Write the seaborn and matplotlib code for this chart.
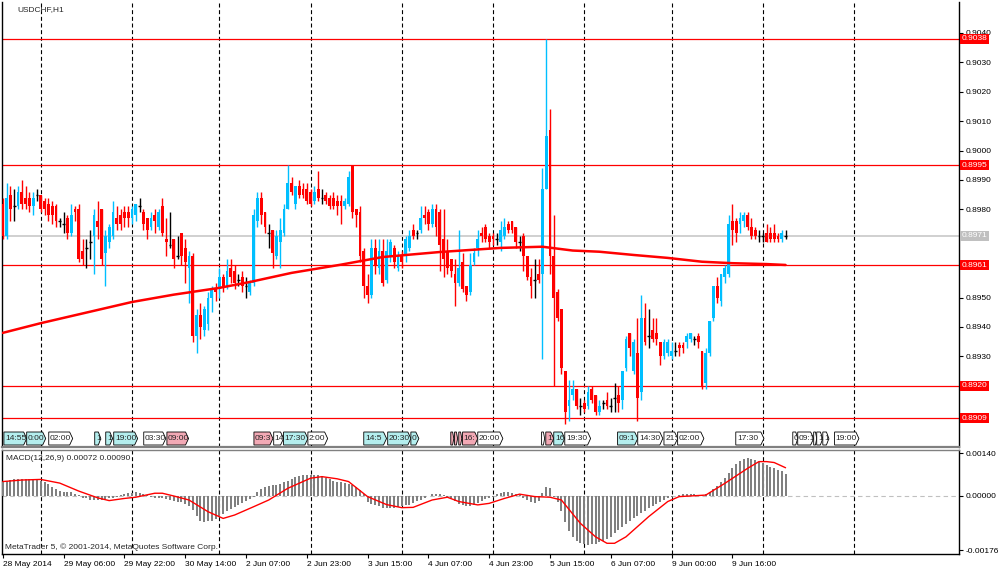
import numpy as np
import matplotlib
matplotlib.use("Agg")
import matplotlib.pyplot as plt
from matplotlib.patches import Polygon
from matplotlib.transforms import blended_transform_factory
import seaborn as sns

# USDCHF H1 candles, in pips above 0.8900 (bar 0 = 28 May 14:00)
open_pips = [
    82, 71, 85, 81, 81, 86, 84, 84, 81, 85,
    85, 83, 82, 81, 81, 76, 75, 77, 72, 80,
    80, 66, 67, 69, 71, 76, 80, 65, 69, 71,
    77, 78, 79, 79, 77, 78, 81, 79, 77, 74,
    78, 74, 81, 70, 68, 70, 64, 72, 67, 60,
    64, 37, 44, 39, 41, 50, 53, 53, 57, 54,
    60, 59, 56, 57, 54, 52, 55, 76, 84, 79,
    72, 73, 64, 69, 72, 80, 89, 82, 88, 87,
    87, 86, 83, 87, 84, 85, 84, 84, 83, 83,
    81, 82, 95, 80, 79, 66, 54, 51, 67, 60,
    66, 56, 64, 67, 60, 64, 64, 67, 73, 72,
    73, 78, 79, 75, 80, 79, 70, 66, 63, 58,
    55, 62, 54, 52, 62, 67, 72, 74, 71, 71,
    70, 69, 71, 75, 76, 74, 69, 71, 64, 57,
    56, 58, 58, 87, 107, 64, 52, 46, 25, 13,
    17, 19, 13, 14, 13, 19, 17, 11, 14, 15,
    13, 16, 17, 15, 26, 38, 25, 31, 18, 43,
    37, 39, 38, 35, 30, 31, 30, 32, 34, 34,
    35, 36, 36, 37, 32, 21, 31, 43, 54, 49,
    57, 58, 76, 76, 75, 76, 78, 74, 73, 71,
    71, 72, 72, 72, 71, 70, 71,
]
high_pips = [
    84, 89, 88, 87, 88, 90, 88, 86, 86, 87,
    85, 84, 84, 83, 82, 77, 79, 78, 82, 81,
    82, 70, 70, 73, 80, 83, 80, 73, 75, 83,
    81, 80, 81, 81, 81, 82, 84, 80, 77, 79,
    80, 80, 84, 77, 79, 70, 71, 72, 70, 66,
    65, 46, 48, 47, 52, 54, 55, 60, 58, 63,
    63, 61, 58, 59, 57, 56, 80, 86, 86, 79,
    75, 73, 73, 77, 82, 95, 91, 88, 90, 89,
    89, 87, 88, 93, 87, 86, 85, 86, 85, 85,
    84, 93, 95, 80, 81, 67, 58, 70, 70, 70,
    70, 70, 70, 68, 66, 66, 71, 73, 75, 73,
    81, 81, 80, 82, 82, 80, 80, 70, 63, 63,
    73, 65, 54, 65, 67, 73, 74, 75, 72, 72,
    72, 76, 77, 76, 76, 74, 71, 72, 64, 60,
    63, 63, 94, 138, 114, 78, 53, 46, 25, 22,
    22, 19, 16, 15, 20, 20, 17, 15, 15, 18,
    16, 21, 20, 25, 37, 38, 36, 43, 51, 48,
    46, 43, 43, 35, 36, 36, 35, 35, 35, 35,
    38, 38, 37, 38, 32, 33, 42, 54, 57, 58,
    61, 78, 82, 77, 79, 79, 79, 77, 74, 73,
    72, 75, 74, 75, 72, 73, 73,
]
low_pips = [
    70, 70, 76, 76, 80, 80, 80, 79, 78, 83,
    79, 78, 76, 75, 74, 74, 72, 70, 71, 76,
    62, 61, 60, 63, 58, 70, 61, 54, 67, 70,
    73, 73, 74, 74, 75, 76, 79, 73, 70, 73,
    72, 73, 71, 64, 67, 60, 63, 61, 55, 48,
    35, 31, 36, 37, 39, 45, 49, 50, 52, 53,
    55, 53, 54, 52, 50, 51, 54, 74, 75, 72,
    67, 60, 63, 60, 71, 80, 85, 80, 84, 84,
    82, 81, 82, 83, 82, 82, 80, 80, 78, 75,
    80, 81, 77, 74, 62, 50, 48, 50, 58, 58,
    54, 55, 62, 60, 59, 60, 62, 66, 70, 70,
    72, 75, 73, 74, 71, 59, 57, 58, 57, 47,
    54, 52, 49, 51, 61, 64, 69, 69, 67, 68,
    68, 66, 70, 72, 72, 67, 66, 59, 56, 50,
    50, 55, 29, 87, 58, 20, 42, 24, 7, 8,
    15, 12, 10, 11, 12, 14, 10, 10, 12, 12,
    11, 11, 11, 12, 25, 30, 24, 8, 15, 34,
    33, 35, 34, 27, 29, 30, 29, 30, 30, 31,
    33, 35, 34, 33, 19, 19, 30, 42, 48, 47,
    55, 57, 68, 69, 72, 74, 73, 70, 70, 69,
    69, 69, 69, 69, 69, 69, 70,
]
close_pips = [
    71, 84, 80, 81, 86, 82, 82, 81, 84, 85,
    80, 80, 78, 78, 76, 76, 75, 72, 78, 79,
    63, 63, 67, 69, 78, 74, 63, 71, 74, 79,
    75, 75, 77, 77, 80, 82, 81, 75, 73, 77,
    76, 79, 72, 69, 68, 63, 64, 64, 62, 64,
    37, 44, 40, 46, 50, 53, 52, 57, 54, 59,
    57, 55, 56, 54, 54, 55, 78, 84, 78, 74,
    72, 65, 71, 73, 80, 89, 86, 88, 85, 85,
    83, 82, 86, 84, 84, 83, 81, 81, 81, 81,
    83, 91, 79, 78, 64, 54, 51, 67, 61, 66,
    55, 66, 69, 62, 64, 62, 70, 71, 71, 72,
    77, 77, 75, 80, 74, 68, 63, 60, 59, 55,
    60, 53, 51, 61, 65, 70, 71, 70, 69, 70,
    70, 73, 74, 73, 73, 69, 69, 64, 57, 54,
    56, 56, 87, 105, 64, 50, 43, 26, 11, 15,
    19, 13, 13, 12, 18, 15, 11, 13, 14, 13,
    13, 16, 14, 25, 36, 33, 35, 16, 43, 35,
    37, 36, 36, 30, 35, 35, 32, 32, 33, 33,
    37, 38, 36, 35, 20, 31, 42, 54, 50, 58,
    60, 75, 73, 72, 77, 78, 74, 71, 71, 71,
    71, 69, 70, 70, 70, 72, 71,
]

# long moving average on the price chart (bar, pips)
ma_bars = [0, 10, 20, 34, 45, 57, 65, 76, 89, 100, 115, 131, 142, 150, 157, 166, 175, 184, 192, 201, 206]
ma_pips = [38, 41.3, 44.3, 48.5, 51, 53.3, 55.3, 58.4, 61.2, 63.8, 65.5, 66.9, 67.3, 66.0, 65.6, 64.5,
           63.5, 62.2, 61.7, 61.4, 61.1]

# MACD(12,26,9) main histogram, units of 1e-5
macd_main = [
    45, 50, 52, 54, 55, 55, 55, 54, 54, 53,
    50, 45, 38, 30, 22, 16, 14, 14, 13, 8,
    2, -5, -8, -12, -14, -14, -12, -10, -8, -5,
    -2, 2, 6, 9, 11, 12, 10, 6, 2, -2,
    -5, -7, -8, -10, -12, -15, -18, -20, -25, -32,
    -45, -65, -80, -84, -83, -80, -74, -66, -58, -50,
    -42, -35, -28, -22, -15, -10, -3, 12, 22, 28,
    32, 35, 36, 40, 45, 50, 56, 62, 65, 67,
    68, 68, 68, 67, 64, 60, 56, 50, 47, 44,
    42, 40, 35, 30, 20, 5, -18, -25, -30, -33,
    -38, -40, -40, -38, -36, -33, -30, -28, -22, -16,
    -12, -6, 0, 5, 8, 6, 2, -3, -8, -15,
    -25, -30, -33, -32, -28, -22, -15, -10, -5, -2,
    5, 10, 12, 12, 10, 7, 2, -6, -12, -18,
    -22, -15, 10, 28, 26, -3, -20, -50, -85, -115,
    -135, -145, -152, -156, -158, -157, -155, -150, -145, -140,
    -132, -122, -112, -102, -92, -82, -73, -65, -56, -48,
    -40, -32, -25, -18, -12, -7, -3, 1, 3, 5,
    6, 6, 5, 4, 3, 6, 14, 24, 34, 45,
    58, 75, 90, 104, 115, 121, 123, 122, 118, 112,
    106, 100, 95, 90, 85, 80, 72,
]
# signal line (bar, units of 1e-5)
signal_bars = [0, 5, 10, 15, 20, 25, 28, 32, 35, 40, 42, 45, 49, 54, 58, 61, 66, 70, 75, 81, 84, 88, 91,
               96, 101, 105, 108, 113, 117, 120, 125, 128, 132, 136, 140, 144, 147, 152, 156, 159, 161,
               164, 170, 175, 178, 185, 190, 196, 199, 201, 203, 206]
signal_vals = [47, 52, 54, 42, 16, -6, -15, -8, -4, 9, 9, 0, -13, -51, -73, -62, -35, -13, 25, 58, 63, 56, 47,
               -2, -28, -38, -37, -13, -4, -18, -29, -24, -8, 6, -2, -4, -13, -89, -133, -154, -154,
               -133, -67, -18, -2, 3, 41, 90, 112, 112, 109, 92]

day_start_bars = [10, 34, 57, 81, 105, 129, 153, 176, 200, 224]
date_tick_bars = [0, 16, 32, 48, 64, 80, 96, 112, 128, 144, 160, 176, 192]
date_labels = ["28 May 2014", "29 May 06:00", "29 May 22:00", "30 May 14:00", "2 Jun 07:00",
               "2 Jun 23:00", "3 Jun 15:00", "4 Jun 07:00", "4 Jun 23:00", "5 Jun 15:00",
               "6 Jun 07:00", "9 Jun 00:00", "9 Jun 16:00"]

price_ticks = [0.8910, 0.8920, 0.8930, 0.8940, 0.8950, 0.8960, 0.8970, 0.8980, 0.8990,
               0.9000, 0.9010, 0.9020, 0.9030, 0.9040]
# tick labels hidden behind the price tags on the right scale
hidden_ticks = [0.8910, 0.8920, 0.8960, 0.8970]
level_prices = [0.9038, 0.8995, 0.8961, 0.8920, 0.8909]
bid_price = 0.8971
macd_ticks = [0.00140, 0.0, -0.00176]
macd_tick_labels = ["0.00140", "0.00000", "-0.00176"]

# trade history markers along the bottom of the price window
marker_text = ["14:55", "0:00", "02:00", "1", "1", "19:00", "03:30", "09:00", "09:3", "14",
               "17:30", "2:00", "14:5", "20:30", "0", "", "", "", "16:", "20:00",
               "", "1", "16", "19:30", "09:1", "14:30", "21:", "02:00", "17:30", "0",
               "09:1", "", "1", "1", "19:00"]
marker_start = [0.3, 6.3, 12.1, 24.2, 27.1, 29.2, 37.1, 43.2, 66.1, 71.3,
                73.9, 80.3, 95, 101.3, 107.4, 117.9, 118.9, 120, 121, 125,
                141.8, 142.9, 145, 147.9, 161.8, 167.1, 174, 177.6, 192.9, 207.9,
                209.2, 213.4, 214.2, 215.8, 218.9]
marker_end = [6.3, 11.3, 18.4, 25.8, 28.9, 35.5, 42.9, 48.9, 71.1, 73.9,
              80.3, 85.5, 101, 107.4, 109.5, 118.7, 119.7, 120.8, 125, 131.6,
              142.6, 145, 147.9, 154.7, 167.1, 173.7, 177.6, 184.5, 200.3, 209.2,
              213.4, 214.2, 215.8, 217.4, 225.3]
marker_kind = ["c", "c", "w", "c", "c", "c", "w", "p", "p", "w",
               "c", "w", "c", "c", "c", "p", "p", "p", "p", "w",
               "w", "p", "c", "w", "c", "w", "w", "w", "w", "w",
               "w", "w", "w", "w", "w"]
marker_colors = {"c": "#b4eeee", "p": "#f2a9b5", "w": "#ffffff"}

sns.set_style("white")
plt.rcParams["font.family"] = ["Liberation Sans", "DejaVu Sans"]

PIP = 0.0001
o = 0.89 + np.array(open_pips) * PIP
h = 0.89 + np.array(high_pips) * PIP
l = 0.89 + np.array(low_pips) * PIP
c = 0.89 + np.array(close_pips) * PIP
x = np.arange(len(c))
up = c > o
down = c < o
flat = ~(up | down)
col = np.where(up, "#00bfff", np.where(down, "#ff0000", "#000000"))

fig = plt.figure(figsize=(10, 5.74), dpi=100)
ax1 = fig.add_axes([0.002, 1 - 447 / 574, 0.957, 445 / 574])
ax2 = fig.add_axes([0.002, 1 - 554 / 574, 0.957, 104 / 574])

x_lim = (-0.2, -0.2 + 957 / 3.8)
dash = (0, (3.6, 2.4))

# ---- price window ----
for b in day_start_bars:
    ax1.axvline(b, color="black", lw=0.8, ls=dash, zorder=1)
    ax2.axvline(b, color="black", lw=0.8, ls=dash, zorder=1)

for lv in level_prices:
    ax1.axhline(lv, color="#ff0000", lw=0.9, zorder=2)
ax1.axhline(bid_price, color="#c8c8c8", lw=1.2, zorder=2)

ax1.vlines(x, l, h, colors=col, lw=1, zorder=3)
body = ~flat
ax1.bar(x[body], np.abs(c - o)[body], bottom=np.minimum(o, c)[body], width=0.72,
        color=col[body], linewidth=0, zorder=4)
ax1.hlines(c[flat], x[flat] - 0.36, x[flat] + 0.36, colors="black", lw=1, zorder=4)

sns.lineplot(x=ma_bars, y=0.89 + np.array(ma_pips) * PIP, ax=ax1, color="#ff0000",
             lw=1.8, zorder=5)

trans = blended_transform_factory(ax1.transData, ax1.transAxes)
y0, y1 = 0.0045, 0.0337
for txt, s, e, k in zip(marker_text, marker_start, marker_end, marker_kind):
    tip = min(0.8, (e - s) * 0.4)
    poly = Polygon([(s, y0), (e - tip, y0), (e, (y0 + y1) / 2), (e - tip, y1), (s, y1)],
                   closed=True, fc=marker_colors[k], ec="black", lw=0.6,
                   transform=trans, zorder=6)
    ax1.add_patch(poly)
    if txt:
        t = ax1.text(s + 0.3, (y0 + y1) / 2, txt, transform=trans, fontsize=6,
                     va="center", ha="left", zorder=7)
        t.set_clip_path(poly)

ax1.set_xlim(*x_lim)
ax1.set_ylim(0.889918, 0.905054)
ax1.yaxis.tick_right()
ax1.set_yticks(price_ticks)
ax1.set_yticklabels(["" if p in hidden_ticks else f"{p:.4f}" for p in price_ticks])
ax1.tick_params(axis="y", which="both", right=True, length=3, width=0.8, labelsize=6, pad=2,
                colors="black")
ax1.tick_params(axis="x", bottom=False, labelbottom=False)
ax1.set_xlabel("")
ax1.set_ylabel("")

tag_trans = blended_transform_factory(ax1.transAxes, ax1.transData)
for lv in level_prices:
    ax1.text(1.0025, lv, f"{lv:.4f}", transform=tag_trans,
             fontsize=6, color="white", va="center", ha="left", zorder=10, clip_on=False,
             bbox=dict(boxstyle="square,pad=0.2", fc="#ff0000", ec="none"))
ax1.text(1.0025, bid_price, f"{bid_price:.4f}", transform=tag_trans,
         fontsize=6, color="white", va="center", ha="left", zorder=10, clip_on=False,
         bbox=dict(boxstyle="square,pad=0.2", fc="#c0c0c0", ec="none"))

ax1.text(0.0157, 0.982, "USDCHF,H1", transform=ax1.transAxes, fontsize=6, va="center", ha="left")

for side in ["left", "right"]:
    ax1.spines[side].set_color("black")
    ax1.spines[side].set_linewidth(1)
ax1.spines["top"].set_visible(False)
ax1.spines["bottom"].set_color("#808080")
ax1.spines["bottom"].set_linewidth(1.6)

# ---- MACD window ----
ax2.axhline(0, color="#c0c0c0", lw=0.8, ls=(0, (4, 3)), zorder=1)
ax2.bar(x, np.array(macd_main) * 1e-5, width=0.5, color="#808080", linewidth=0, zorder=3)
sns.lineplot(x=signal_bars, y=np.array(signal_vals) * 1e-5, ax=ax2, color="#ff0000",
             lw=1.0, zorder=4)

ax2.set_xlim(*x_lim)
ax2.set_ylim(-0.001889, 0.001498)
ax2.yaxis.tick_right()
ax2.set_yticks(macd_ticks)
ax2.set_yticklabels(macd_tick_labels)
ax2.tick_params(axis="y", right=True, length=3, width=0.8, labelsize=6, pad=2, colors="black")
ax2.set_xticks(date_tick_bars)
ax2.set_xticklabels(date_labels, ha="left")
ax2.tick_params(axis="x", bottom=True, length=3, width=0.8, labelsize=6, pad=2, colors="black")
ax2.set_xlabel("")
ax2.set_ylabel("")

ax2.text(0.004, 0.923, "MACD(12,26,9) 0.00072 0.00090", transform=ax2.transAxes, fontsize=6,
         va="center", ha="left")
ax2.text(0.003, 0.067, "MetaTrader 5, \u00a9 2001-2014, MetaQuotes Software Corp.",
         transform=ax2.transAxes, fontsize=6, va="center", ha="left")

for side in ["left", "right", "bottom"]:
    ax2.spines[side].set_color("black")
    ax2.spines[side].set_linewidth(1)
ax2.spines["top"].set_color("#808080")
ax2.spines["top"].set_linewidth(1)

fig.savefig("out.png", dpi=100)
